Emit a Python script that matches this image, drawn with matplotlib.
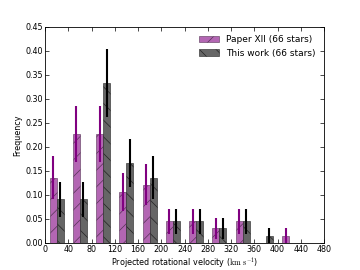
import matplotlib
matplotlib.use('Agg')
from matplotlib import pyplot as plt
import numpy as np

# star counts per 40 km/s bin, 66 stars each sample
bins = [0, 40, 80, 120, 160, 200, 240, 280, 320, 360, 400, 440]
paper12 = [9, 15, 15, 7, 8, 3, 3, 2, 3, 0, 1]
thiswork = [6, 6, 22, 11, 9, 3, 3, 2, 3, 1, 0]
nstars = 66
xticks = [0, 40, 80, 120, 160, 200, 240, 280, 320, 360, 400, 440, 480]
yticks = [0.0, 0.05, 0.1, 0.15, 0.2, 0.25, 0.3, 0.35, 0.4, 0.45]

plt.rcParams['mathtext.fontset'] = 'cm'
plt.rcParams['font.size'] = 5.8
plt.rcParams['hatch.linewidth'] = 0.5

edges = np.array(bins)
centers = (edges[:-1] + edges[1:]) / 2.0
w = 12.0
p = np.array(paper12) / float(nstars)
t = np.array(thiswork) / float(nstars)
pe = np.sqrt(paper12) / float(nstars)
te = np.sqrt(thiswork) / float(nstars)

fig, ax = plt.subplots(1, 1, figsize=(3.6, 2.7), dpi=100)
fig.subplots_adjust(left=0.125, right=0.9, bottom=0.1, top=0.9)

ax.bar(centers - w / 2, p, width=w, color='#b366b3', hatch='//',
       edgecolor='#553355', linewidth=0.4, label='Paper XII (66 stars)')
ax.bar(centers + w / 2, t, width=w, color='#666666', hatch='\\\\',
       edgecolor='#222222', linewidth=0.4, label='This work (66 stars)')
m = p > 0
ax.errorbar((centers - w / 2)[m], p[m], yerr=pe[m], fmt='none', ecolor='purple',
            elinewidth=1.5, capsize=0)
m = t > 0
ax.errorbar((centers + w / 2)[m], t[m], yerr=te[m], fmt='none', ecolor='black',
            elinewidth=1.5, capsize=0)

ax.set_xlim(0, 480)
ax.set_ylim(0, 0.45)
ax.set_xticks(xticks)
ax.set_yticks(yticks)
ax.set_yticklabels(['%.2f' % v for v in yticks])
ax.tick_params(direction='in', top=True, right=True, length=3, width=0.5, pad=1.5)
for s in ax.spines.values():
    s.set_linewidth(0.6)
ax.set_xlabel(r'Projected rotational velocity ($\mathrm{km\ s^{-1}}$)', labelpad=1)
ax.set_ylabel('Frequency', labelpad=2)
ax.legend(loc='upper right', frameon=False, fontsize=6.5, handlelength=2.2)

plt.savefig('out.png', dpi=100)
